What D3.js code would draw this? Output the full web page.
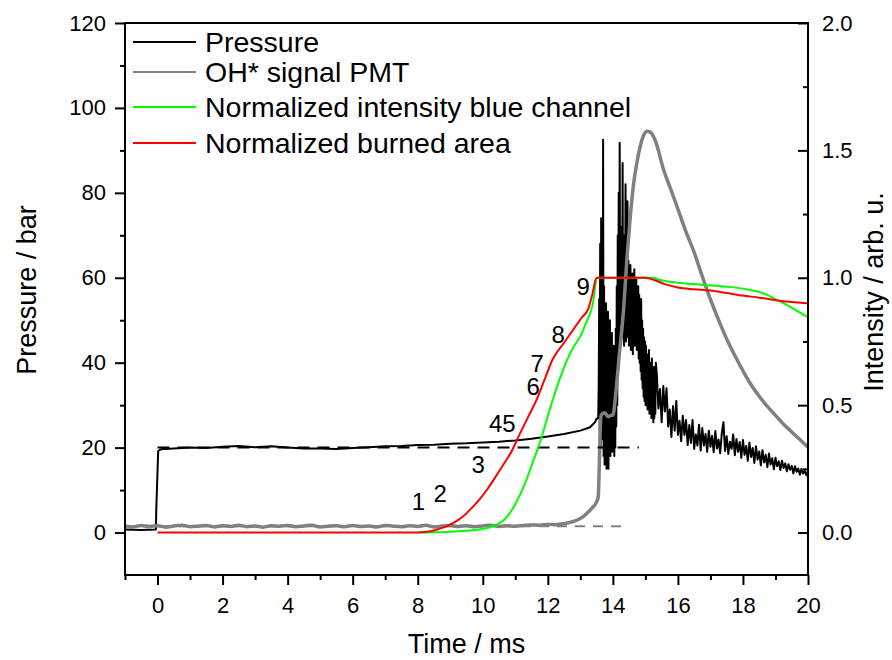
<!DOCTYPE html>
<html>
<head>
<meta charset="utf-8">
<script src="https://cdn.jsdelivr.net/npm/d3@7"></script>
<style>
  body { margin: 0; background: #fff; }
  svg text { font-family: "Liberation Sans", Arial, sans-serif; fill: #000; }
  .tick text { font-size: 22px; }
  .axis-title { font-size: 27px; }
  .legend-text { font-size: 28.5px; }
  .note { font-size: 24px; }
</style>
</head>
<body>
<svg id="Vis1" width="892" height="660"></svg>
<script>
// time in ms, pressure in bar
let pressure = [
  [-1, 0.7], [-0.5, 0.6], [-0.05, 0.7], [-0.04, 5], [0.02, 19.2], [0.1, 19.6],
  [0.5, 19.8], [1, 20.0], [1.5, 19.9], [2, 20.2], [2.5, 20.4], [3, 20.1],
  [3.5, 20.3], [4, 20.0], [4.5, 19.8], [5, 19.8], [5.5, 19.7], [6, 19.9],
  [6.5, 20.1], [7, 20.3], [7.5, 20.4], [8, 20.6], [8.5, 20.7], [9, 20.9],
  [9.5, 21.0], [10, 21.2], [10.5, 21.4], [11, 21.7], [11.5, 22.1], [12, 22.6],
  [12.5, 23.2], [13, 24.0], [13.3, 24.8], [13.45, 26.0], [13.5, 26.8], [13.55, 27],
  [13.565, 35], [13.58, 55], [13.595, 24], [13.61, 68], [13.625, 20], [13.64, 74],
  [13.655, 28], [13.67, 62], [13.685, 22], [13.7, 92.5], [13.715, 18], [13.73, 58],
  [13.745, 16], [13.76, 50], [13.775, 20], [13.79, 54], [13.805, 15], [13.82, 46],
  [13.835, 19], [13.85, 52], [13.865, 15], [13.88, 44], [13.895, 21], [13.91, 50],
  [13.925, 18], [13.94, 40], [13.955, 22], [13.97, 47], [13.985, 19], [14.0, 38],
  [14.015, 24], [14.03, 44], [14.045, 18], [14.06, 36], [14.075, 20], [14.09, 48],
  [14.105, 25], [14.12, 58], [14.135, 30], [14.15, 70], [14.165, 38], [14.18, 80],
  [14.195, 44], [14.21, 91.8], [14.225, 48], [14.24, 72], [14.255, 45], [14.27, 66],
  [14.285, 50], [14.3, 87], [14.315, 46], [14.33, 70], [14.345, 44], [14.36, 62],
  [14.375, 48], [14.39, 82], [14.405, 45], [14.42, 68], [14.435, 50], [14.45, 78],
  [14.465, 46], [14.48, 64], [14.495, 44], [14.51, 60], [14.525, 47], [14.54, 63],
  [14.555, 43], [14.57, 58], [14.585, 46], [14.6, 61], [14.615, 42], [14.63, 57],
  [14.645, 45], [14.66, 62], [14.675, 44], [14.69, 56], [14.705, 47], [14.72, 60],
  [14.735, 43], [14.75, 55], [14.765, 46], [14.78, 58], [14.795, 41], [14.81, 56],
  [14.825, 40], [14.84, 53], [14.855, 38], [14.87, 55], [14.885, 36], [14.9, 50],
  [14.915, 34], [14.93, 48], [14.945, 32], [14.96, 46], [14.975, 31], [14.99, 45],
  [15.005, 30], [15.02, 44], [15.035, 32], [15.05, 42], [15.065, 29], [15.08, 41],
  [15.095, 30], [15.11, 43], [15.125, 28], [15.14, 40], [15.155, 29], [15.17, 38],
  [15.185, 27], [15.2, 41], [15.215, 28], [15.23, 37], [15.245, 26], [15.26, 39],
  [15.275, 27], [15.29, 36], [15.305, 28], [15.32, 40], [15.35, 37.5], [15.4, 29.2],
  [15.45, 33.8], [15.5, 26], [15.55, 34.5], [15.6, 28.5], [15.65, 34], [15.7, 25],
  [15.75, 29], [15.8, 22.5], [15.85, 29.8], [15.9, 24], [15.95, 31], [16.0, 23],
  [16.05, 26.3], [16.1, 21.5], [16.15, 27.5], [16.2, 23], [16.25, 26.5], [16.3, 20.6],
  [16.35, 25.3], [16.4, 21.1], [16.45, 26.5], [16.5, 19.7], [16.55, 23.1], [16.6, 20.5],
  [16.65, 25.4], [16.7, 19.3], [16.75, 24.6], [16.8, 20.5], [16.85, 23.2], [16.9, 19.0],
  [16.95, 24.0], [17.0, 20.2], [17.05, 22.8], [17.1, 18.9], [17.15, 23.9], [17.2, 19.8],
  [17.25, 21.9], [17.3, 18.7], [17.35, 23.4], [17.4, 26.0], [17.45, 19.2], [17.5, 22.7],
  [17.55, 18.5], [17.6, 21.4], [17.65, 19.7], [17.7, 23.1], [17.75, 18.2], [17.8, 22.0],
  [17.85, 19.0], [17.9, 21.3], [17.95, 17.6], [18.0, 21.8], [18.05, 18.3], [18.1, 20.4],
  [18.15, 16.9], [18.2, 21.2], [18.25, 17.8], [18.3, 19.9], [18.35, 16.4], [18.4, 20.3],
  [18.45, 17.2], [18.5, 19.1], [18.55, 15.8], [18.6, 19.4], [18.65, 16.5], [18.7, 18.3],
  [18.75, 15.4], [18.8, 18.6], [18.85, 16.0], [18.9, 17.5], [18.95, 14.9], [19.0, 17.6],
  [19.05, 15.6], [19.1, 16.8], [19.15, 14.7], [19.2, 16.9], [19.25, 15.2], [19.3, 16.3],
  [19.35, 14.4], [19.4, 16.1], [19.45, 14.8], [19.5, 15.7], [19.55, 13.9], [19.6, 15.6],
  [19.65, 14.3], [19.7, 15.1], [19.75, 13.6], [19.8, 15.0], [19.85, 13.9], [19.9, 14.6],
  [19.95, 13.5], [20.0, 14.4]
];

// OH* chemiluminescence, arb. u. (right axis)
let ohSignal = [
  [-1, 0.026], [-0.75, 0.022], [-0.5, 0.028], [-0.25, 0.024], [0, 0.027], [0.25, 0.021],
  [0.5, 0.026], [0.75, 0.029], [1, 0.023], [1.25, 0.025], [1.5, 0.028], [1.75, 0.022],
  [2, 0.027], [2.25, 0.024], [2.5, 0.029], [2.75, 0.023], [3, 0.026], [3.25, 0.021],
  [3.5, 0.027], [3.75, 0.025], [4, 0.028], [4.25, 0.023], [4.5, 0.026], [4.75, 0.029],
  [5, 0.022], [5.25, 0.025], [5.5, 0.027], [5.75, 0.023], [6, 0.028], [6.25, 0.024],
  [6.5, 0.026], [6.75, 0.022], [7, 0.028], [7.25, 0.025], [7.5, 0.023], [7.75, 0.027],
  [8, 0.024], [8.25, 0.029], [8.5, 0.022], [8.75, 0.026], [9, 0.028], [9.25, 0.024],
  [9.5, 0.027], [9.75, 0.023], [10, 0.026], [10.25, 0.029], [10.5, 0.024], [10.75, 0.027],
  [11, 0.025], [11.25, 0.028], [11.5, 0.030], [11.75, 0.029], [12, 0.032], [12.25, 0.031],
  [12.5, 0.035], [12.8, 0.044], [13.0, 0.055], [13.2, 0.075], [13.35, 0.095], [13.5, 0.12],
  [13.55, 0.14], [13.58, 0.25], [13.61, 0.4], [13.64, 0.46], [13.75, 0.47], [13.85, 0.455],
  [13.95, 0.46], [14.0, 0.46], [14.1, 0.56], [14.2, 0.7], [14.33, 0.875], [14.43, 1.07],
  [14.53, 1.23], [14.63, 1.36], [14.75, 1.46], [14.85, 1.52], [14.95, 1.56], [15.05, 1.575],
  [15.15, 1.572], [15.3, 1.54], [15.56, 1.424], [15.8, 1.34], [16.0, 1.27], [16.25, 1.18],
  [16.5, 1.10], [16.75, 1.005], [17.0, 0.915], [17.25, 0.835], [17.5, 0.76], [17.75, 0.695],
  [18.0, 0.635], [18.25, 0.58], [18.5, 0.535], [18.75, 0.495], [19.0, 0.46], [19.25, 0.425],
  [19.5, 0.395], [19.75, 0.365], [20.0, 0.335]
];

let blueChannel = [
  [8, 0], [8.5, 0.001], [9, 0.003], [9.5, 0.007], [9.9, 0.012], [10.2, 0.02],
  [10.45, 0.032], [10.7, 0.055], [10.95, 0.10], [11.15, 0.15], [11.35, 0.21], [11.55, 0.28],
  [11.75, 0.35], [11.95, 0.435], [12.15, 0.52], [12.4, 0.615], [12.6, 0.68], [12.8, 0.73],
  [13.0, 0.77], [13.2, 0.83], [13.3, 0.86], [13.4, 0.91], [13.45, 0.96], [13.5, 1.0],
  [15.2, 1.0], [15.5, 0.99], [16.0, 0.98], [16.8, 0.972], [17.5, 0.965], [18.1, 0.955],
  [18.6, 0.94], [19.1, 0.91], [19.6, 0.875], [20, 0.845]
];

let burnedArea = [
  [0, 0], [8, 0], [8.3, 0.003], [8.6, 0.012], [8.9, 0.025], [9.15, 0.042],
  [9.4, 0.064], [9.65, 0.095], [9.9, 0.13], [10.15, 0.172], [10.4, 0.22], [10.65, 0.27],
  [10.85, 0.31], [11.15, 0.39], [11.4, 0.455], [11.65, 0.52], [11.9, 0.6], [12.15, 0.68],
  [12.5, 0.745], [12.8, 0.80], [13.05, 0.845], [13.25, 0.88], [13.36, 0.93], [13.5, 1.0],
  [15.0, 1.0], [15.3, 0.99], [15.6, 0.975], [16.0, 0.962], [16.5, 0.955], [17.0, 0.95],
  [17.5, 0.94], [18.0, 0.93], [18.5, 0.922], [19.0, 0.912], [19.5, 0.905], [20, 0.9]
];

// reference levels (dashed)
let pressureRef = [[0, 20], [14.8, 20]];
let ohRef = [[-1, 0.025], [14.3, 0.025]];

// frame numbers written next to the burned area curve: [time, intensity, label]
let frameLabels = [
  [8.02, 0.090, "1"], [8.69, 0.118, "2"], [9.86, 0.235, "3"], [10.6, 0.396, "45"],
  [11.55, 0.541, "6"], [11.67, 0.631, "7"], [12.32, 0.745, "8"], [13.09, 0.933, "9"]
];

let timeTicks = [0, 2, 4, 6, 8, 10, 12, 14, 16, 18, 20];
let timeMinor = [-1, 1, 3, 5, 7, 9, 11, 13, 15, 17, 19];
let pressureTicks = [0, 20, 40, 60, 80, 100, 120];
let pressureMinor = [10, 30, 50, 70, 90, 110];
let intensityTicks = [0, 0.5, 1.0, 1.5, 2.0];
let intensityMinor = [0.25, 0.75, 1.25, 1.75];

let legendNames = ["Pressure", "OH* signal PMT", "Normalized intensity blue channel", "Normalized burned area"];
let legendColors = ["#000000", "#808080", "#00ff00", "#ff0000"];

let drawChart = function() {
  let svg = d3.select("svg#Vis1");

  const margin = { top: 23, bottom: 85, left: 125, right: 84 };
  const width = 892;
  const height = 660;
  let plotWidth = width - margin.left - margin.right;
  let plotHeight = height - margin.top - margin.bottom;

  let x = d3.scaleLinear().domain([-1, 20]).range([0, plotWidth]);
  let yP = d3.scaleLinear().domain([-10, 120]).range([plotHeight, 0]);
  let yI = d3.scaleLinear().domain([-1 / 6, 2]).range([plotHeight, 0]);

  const plot = svg.append("g").attr("transform", translate(margin.left, margin.top));

  svg.append("defs").append("clipPath").attr("id", "clip")
    .append("rect").attr("width", plotWidth).attr("height", plotHeight);

  // axes (major + minor ticks)
  let addAxis = function(axis, values, size, fmt, tx, ty, pad) {
    let g = plot.append("g").attr("transform", translate(tx, ty));
    g.call(axis.tickValues(values).tickSizeInner(size).tickSizeOuter(0)
      .tickPadding(pad).tickFormat(fmt));
    g.select(".domain").remove();
    g.selectAll(".tick line").attr("stroke", "#000").attr("stroke-width", 2);
    return g;
  };

  addAxis(d3.axisBottom(x), timeTicks, 10, d3.format("d"), 0, plotHeight, 12);
  addAxis(d3.axisBottom(x), timeMinor, 5, () => "", 0, plotHeight, 0);
  addAxis(d3.axisLeft(yP), pressureTicks, 10, d3.format("d"), 0, 0, 9);
  addAxis(d3.axisLeft(yP), pressureMinor, 5, () => "", 0, 0, 0);
  addAxis(d3.axisRight(yI), intensityTicks, -10, d3.format(".1f"), plotWidth, 0, 14);
  addAxis(d3.axisRight(yI), intensityMinor, -5, () => "", plotWidth, 0, 0);

  let data = plot.append("g").attr("clip-path", "url(#clip)");

  let lineP = d3.line().x(d => x(d[0])).y(d => yP(d[1]));
  let lineI = d3.line().x(d => x(d[0])).y(d => yI(d[1]));
  let smoothI = d3.line().x(d => x(d[0])).y(d => yI(d[1])).curve(d3.curveMonotoneX);

  data.append("path").datum(pressure).attr("d", lineP)
    .attr("fill", "none").attr("stroke", "#000").attr("stroke-width", 2)
    .attr("stroke-linejoin", "round");

  data.append("path").datum(ohSignal).attr("d", smoothI)
    .attr("fill", "none").attr("stroke", "#808080").attr("stroke-width", 3.5)
    .attr("stroke-linejoin", "round");

  data.append("path").datum(pressureRef).attr("d", lineP)
    .attr("fill", "none").attr("stroke", "#000").attr("stroke-width", 2)
    .attr("stroke-dasharray", "12,8");

  data.append("path").datum(ohRef).attr("d", lineI)
    .attr("fill", "none").attr("stroke", "#808080").attr("stroke-width", 2)
    .attr("stroke-dasharray", "10,8");

  data.append("path").datum(blueChannel).attr("d", smoothI)
    .attr("fill", "none").attr("stroke", "#00ff00").attr("stroke-width", 2);

  data.append("path").datum(burnedArea).attr("d", smoothI)
    .attr("fill", "none").attr("stroke", "#ff0000").attr("stroke-width", 2);

  plot.selectAll("text.note").data(frameLabels).enter().append("text")
    .attr("class", "note")
    .attr("x", d => x(d[0]))
    .attr("y", d => yI(d[1]))
    .attr("text-anchor", "middle")
    .text(d => d[2]);

  // frame
  plot.append("rect").attr("width", plotWidth).attr("height", plotHeight)
    .attr("fill", "none").attr("stroke", "#000").attr("stroke-width", 2);

  // legend
  let rowY = [19, 49, 84, 120];
  let legend = plot.append("g").attr("transform", translate(8, 0));
  legendNames.forEach(function(name, i) {
    legend.append("line")
      .attr("x1", 0).attr("x2", 63)
      .attr("y1", rowY[i]).attr("y2", rowY[i])
      .attr("stroke", legendColors[i]).attr("stroke-width", 2);
    legend.append("text").attr("class", "legend-text")
      .attr("x", 72).attr("y", rowY[i] + 10)
      .text(name);
  });

  // axis titles
  svg.append("text").attr("class", "axis-title")
    .attr("x", margin.left + midpoint(x.range())).attr("y", 653)
    .attr("text-anchor", "middle").text("Time / ms");

  svg.append("g").attr("transform", translate(36, 290))
    .append("text").attr("class", "axis-title")
    .attr("text-anchor", "middle").attr("transform", "rotate(-90)")
    .text("Pressure / bar");

  svg.append("g").attr("transform", translate(883, 292))
    .append("text").attr("class", "axis-title")
    .attr("text-anchor", "middle").attr("transform", "rotate(-90)")
    .text("Intensity / arb. u.");
};

function midpoint(range) {
  return range[0] + (range[1] - range[0]) / 2.0;
}

function translate(x, y) {
  return 'translate(' + String(x) + ',' + String(y) + ')';
}

drawChart();
</script>
</body>
</html>
